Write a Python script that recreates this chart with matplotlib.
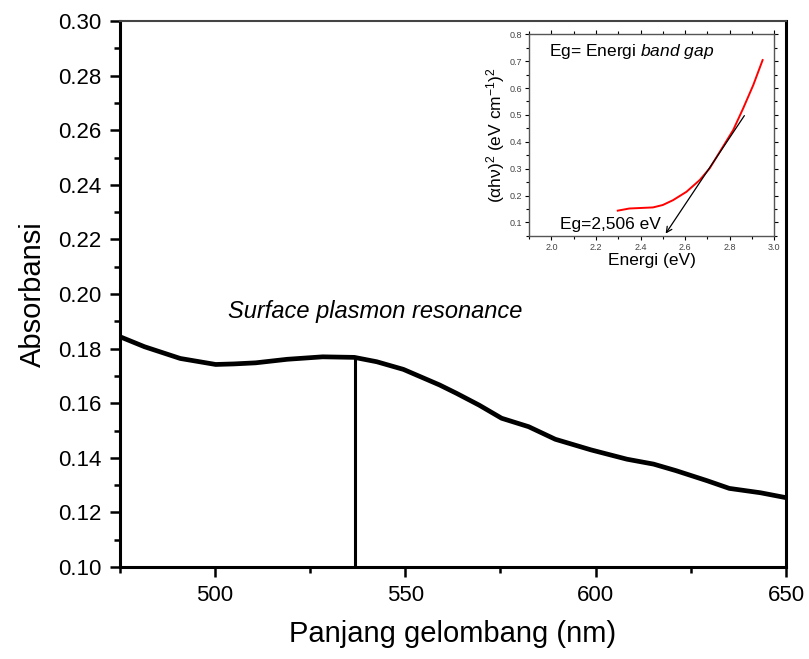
import matplotlib.pyplot as plt
from matplotlib.ticker import MultipleLocator

plt.rcParams['font.family'] = ['Liberation Sans', 'DejaVu Sans']
plt.rcParams['mathtext.fontset'] = 'custom'
plt.rcParams['mathtext.rm'] = 'Liberation Sans'
plt.rcParams['mathtext.it'] = 'Liberation Sans:italic'

# main spectrum
wavelength = [475, 481.5, 490.9, 500.2, 505, 510.7, 519, 528.3, 536.6, 542.5,
              549.5, 559, 563.5, 569.4, 575.3, 582.4, 589.4, 598.8, 608.2,
              615.2, 621.1, 629.3, 635.1, 643.3, 650]
absorbance = [0.1844, 0.1807, 0.1764, 0.1742, 0.1744, 0.1748, 0.1761, 0.1770,
              0.1768, 0.1752, 0.1724, 0.1667, 0.1636, 0.1593, 0.1545, 0.1514,
              0.1468, 0.1429, 0.1395, 0.1377, 0.1353, 0.1316, 0.1288, 0.1272,
              0.1254]
spr_peak = 536.7
spr_abs = 0.1768

# Tauc plot inset
energy = [2.298, 2.35, 2.456, 2.50, 2.546, 2.606, 2.666, 2.71, 2.756, 2.816,
          2.861, 2.906, 2.948]
tauc = [0.144, 0.152, 0.156, 0.165, 0.183, 0.214, 0.258, 0.301, 0.363, 0.444,
        0.525, 0.611, 0.704]
fit_start = (2.873, 0.506)
eg_value = 2.506

fig = plt.figure(figsize=(8.09, 6.59), dpi=100)
ax = fig.add_axes([0.148, 0.1396, 0.8236, 0.8284])

ax.plot(wavelength, absorbance, color='black', lw=3.4)
ax.plot([spr_peak, spr_peak], [0.10, spr_abs], color='black', lw=2.2)
ax.text(542, 0.1895, 'Surface plasmon resonance', style='italic',
        fontsize=17, ha='center', va='bottom')

ax.set_xlim(475, 650)
ax.set_ylim(0.10, 0.30)
ax.xaxis.set_major_locator(MultipleLocator(50))
ax.xaxis.set_minor_locator(MultipleLocator(25))
ax.yaxis.set_major_locator(MultipleLocator(0.02))
ax.yaxis.set_minor_locator(MultipleLocator(0.01))
ax.yaxis.set_major_formatter(plt.FormatStrFormatter('%.2f'))
ax.tick_params(which='major', direction='out', length=7, width=1.8,
               labelsize=16, pad=6)
ax.tick_params(which='minor', direction='out', length=4, width=1.8)
ax.tick_params(axis='x', which='both', top=False)
for s in ['left', 'bottom', 'right']:
    ax.spines[s].set_linewidth(2.2)
ax.spines['top'].set_linewidth(1.5)
ax.spines['top'].set_color('#444444')
ax.set_xlabel('Panjang gelombang (nm)', fontsize=21, labelpad=10)
ax.set_ylabel('Absorbansi', fontsize=21, labelpad=8)

# inset
ins = fig.add_axes([0.654, 0.642, 0.303, 0.306])
ins.plot(energy, tauc, color='red', lw=1.4)
ins.annotate('', xy=(eg_value, 0.05), xytext=fit_start,
             arrowprops=dict(arrowstyle='->', color='black', lw=0.9))
ins.text(2.04, 0.094, 'Eg=2,506 eV', fontsize=12.5, va='center')
ins.text(1.99, 0.735, 'Eg= Energi $\\it{band\\ gap}$', fontsize=12.5, va='center')
ins.set_xlim(1.9, 3.0)
ins.set_ylim(0.05, 0.8)
ins.xaxis.set_major_locator(MultipleLocator(0.2))
ins.xaxis.set_minor_locator(MultipleLocator(0.1))
ins.yaxis.set_minor_locator(MultipleLocator(0.05))
ins.set_yticks([0.1, 0.2, 0.3, 0.4, 0.5, 0.6, 0.7, 0.8])
ins.tick_params(which='both', direction='out', labelsize=6.5,
                labelcolor='#444444', width=0.8, length=3, pad=2)
ins.tick_params(which='minor', length=2)
ins.tick_params(which='both', top=True, right=True)
for s in ins.spines.values():
    s.set_linewidth(1.0)
    s.set_color('#555555')
ins.set_xlabel('Energi (eV)', fontsize=12.5, labelpad=1)
ins.set_ylabel('$(\\mathrm{\\alpha h\\nu})^2$ (eV cm$^{-1}$)$^2$', fontsize=12.5,
               labelpad=2)

fig.savefig('out.png', dpi=100)
